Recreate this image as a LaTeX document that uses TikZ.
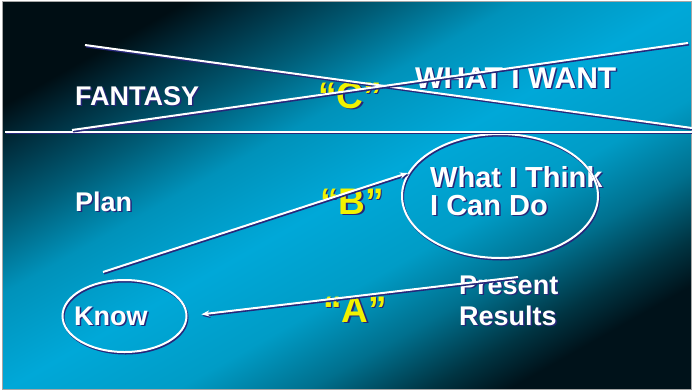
\documentclass[tikz,border=0pt]{standalone}
\usepackage{fontspec}
\setmainfont{Liberation Sans}
\usetikzlibrary{arrows.meta,shapes.geometric}
\definecolor{slidecyan}{HTML}{00A8D8}
\definecolor{slidedark}{HTML}{00121A}
\definecolor{shadenavy}{HTML}{26267A}
\definecolor{quoteyellow}{HTML}{F2F200}
\pgfdeclareverticalshading{slideshade}{100bp}{
  color(0bp)=(slidedark); color(25bp)=(slidedark);
  color(29bp)=(rgb,255:red,0;green,52;blue,66);
  color(35bp)=(rgb,255:red,0;green,112;blue,142);
  color(41.5bp)=(rgb,255:red,0;green,156;blue,198);
  color(50bp)=(slidecyan);
  color(58.5bp)=(rgb,255:red,0;green,146;blue,186);
  color(65bp)=(rgb,255:red,0;green,92;blue,118);
  color(71bp)=(rgb,255:red,0;green,46;blue,62);
  color(75bp)=(rgb,255:red,0;green,14;blue,20); color(100bp)=(rgb,255:red,0;green,14;blue,20)}
\newcommand\shd[1]{\makebox[0pt][l]{\hspace{1.5pt}\raisebox{-1.5pt}{\color{shadenavy}#1}}#1}

\begin{document}
\begin{tikzpicture}[
  x=1pt, y=-1pt,
  slidetext/.style={text=white, inner sep=0pt, align=left, font=\bfseries\fontsize{27}{31}\selectfont},
  quotemark/.style={text=quoteyellow, inner sep=0pt, font=\bfseries\fontsize{37}{37}\selectfont},
  whiteline/.style={draw=white, line width=2pt, preaction={draw=shadenavy, line width=2pt, transform canvas={xshift=1pt, yshift=-1.5pt}}},
  ring/.style={ellipse, whiteline, inner sep=0pt},
  pointer/.style={whiteline, -{Stealth[length=8pt, width=6pt]}}
]
\useasboundingbox (0,0) rectangle (692,391);
\shadedraw[shading=slideshade, shading angle=29.5, draw=gray!70, line width=1pt] (2.5,1.5) rectangle (691.5,389.5);

\node[slidetext, anchor=base west] (fantasy) at (75,105) {\shd{FANTASY}};
\node[slidetext, anchor=base west, font=\bfseries\fontsize{30}{30}\selectfont] (want) at (415,88) {\shd{WHAT I WANT}};
\node[slidetext, anchor=base west] (plan) at (75,211) {\shd{Plan}};
\node[slidetext, anchor=base west] (know) at (74,325) {\shd{Know}};
\node[slidetext, anchor=base west, font=\bfseries\fontsize{29}{28}\selectfont] (think) at (430,215) {\shd{What I Think}\\\shd{I Can Do}};
\node[slidetext, anchor=base west] (present) at (459,325) {\shd{Present}\\\shd{Results}};

\node[quotemark, anchor=base west] (qc) at (318,108) {\shd{“C”}};
\node[quotemark, anchor=base west] (qb) at (320,214) {\shd{“B”}};
\node[quotemark, anchor=base west] (qa) at (323,322) {\shd{“A”}};

\node[ring, minimum width=196pt, minimum height=124pt] (thinkring) at (500,196) {};
\node[ring, minimum width=124pt, minimum height=72pt] (knowring) at (124.5,316) {};

\coordinate (divleft) at (5,131.5);
\coordinate (divright) at (692,131.5);
\coordinate (crossa) at (85,45);
\coordinate (crossb) at (692,128);
\coordinate (crossc) at (72,130);
\coordinate (crossd) at (688,43);
\coordinate (planstart) at (103,272);
\coordinate (resultstart) at (518,277);

\draw[whiteline] (divleft) -- (divright);
\draw[whiteline] (crossa) -- (crossb);
\draw[whiteline] (crossc) -- (crossd);
\draw[pointer] (planstart) -- (thinkring.166);
\draw[pointer, shorten >=14pt] (resultstart) -- (knowring.east);
\end{tikzpicture}
\end{document}
